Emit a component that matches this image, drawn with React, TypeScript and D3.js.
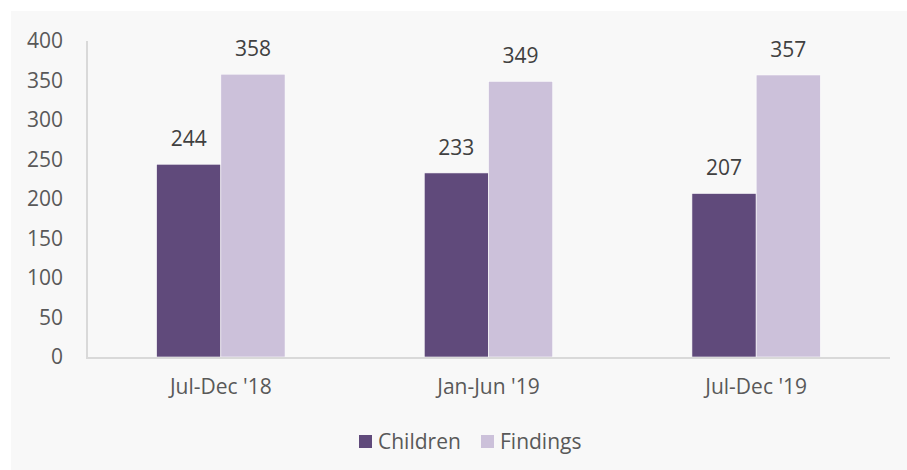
import React from "react";
import * as d3 from "d3";

const categories = ["Jul-Dec '18", "Jan-Jun '19", "Jul-Dec '19"];
const seriesNames = ["Children", "Findings"];
const children = [244, 233, 207];
const findings = [358, 349, 357];
const yTicks = [0, 50, 100, 150, 200, 250, 300, 350, 400];

const colors = ["#604a7b", "#ccc1da"];

const width = 907;
const height = 470;
const font = "'Open Sans', 'Noto Sans', sans-serif";
const fontSize = 21;

export default function App() {
  const x0 = d3
    .scaleBand<string>()
    .domain(categories)
    .range([87, 890])
    .paddingInner(0.52)
    .paddingOuter(0.26);

  const x1 = d3
    .scaleBand<string>()
    .domain(seriesNames)
    .range([0, x0.bandwidth()]);

  const y = d3.scaleLinear().domain([0, 400]).range([357, 41]);

  const values = [children, findings];

  // legend positions
  const legendItems = [
    { name: "Children", x: 359 },
    { name: "Findings", x: 481 },
  ];

  return (
    <div style={{ position: "absolute", left: 0, top: 0 }}>
      <svg width={width} height={height} style={{ display: "block" }}>
        <rect x={0} y={0} width={width} height={height} fill="#ffffff" />
        <rect x={11} y={11} width={width - 11} height={height - 11} fill="#f8f8f8" />

        {/* y axis labels */}
        {yTicks.map((t) => (
          <text
            key={t}
            x={63}
            y={y(t)}
            dy="0.35em"
            textAnchor="end"
            fontFamily={font}
            fontSize={fontSize}
            fill="#595959"
          >
            {t}
          </text>
        ))}

        {/* bars */}
        {categories.map((c, i) => (
          <g key={c} transform={`translate(${x0(c)},0)`}>
            {seriesNames.map((s, j) => {
              const v = values[j][i];
              return (
                <g key={s}>
                  <rect
                    x={x1(s)}
                    y={y(v)}
                    width={x1.bandwidth()}
                    height={y(0) - y(v)}
                    fill={colors[j]}
                    stroke="#ffffff"
                    strokeWidth={0.6}
                  />
                  <text
                    x={(x1(s) ?? 0) + x1.bandwidth() / 2}
                    y={y(v) - 18}
                    textAnchor="middle"
                    fontFamily={font}
                    fontSize={fontSize}
                    fill="#404040"
                  >
                    {v}
                  </text>
                </g>
              );
            })}
          </g>
        ))}

        {/* axes lines */}
        <line x1={87} x2={87} y1={41} y2={358} stroke="#d9d9d9" strokeWidth={2} />
        <line x1={86} x2={890} y1={358} y2={358} stroke="#d9d9d9" strokeWidth={2} />

        {/* category labels */}
        {categories.map((c) => (
          <text
            key={c}
            x={(x0(c) ?? 0) + x0.bandwidth() / 2}
            y={394}
            textAnchor="middle"
            fontFamily={font}
            fontSize={fontSize}
            fill="#595959"
          >
            {c}
          </text>
        ))}

        {/* legend */}
        {legendItems.map((d, i) => (
          <g key={d.name}>
            <rect x={d.x} y={435} width={13} height={13} fill={colors[i]} />
            <text
              x={d.x + 19}
              y={442}
              dy="0.35em"
              fontFamily={font}
              fontSize={fontSize}
              fill="#595959"
            >
              {d.name}
            </text>
          </g>
        ))}
      </svg>
    </div>
  );
}
